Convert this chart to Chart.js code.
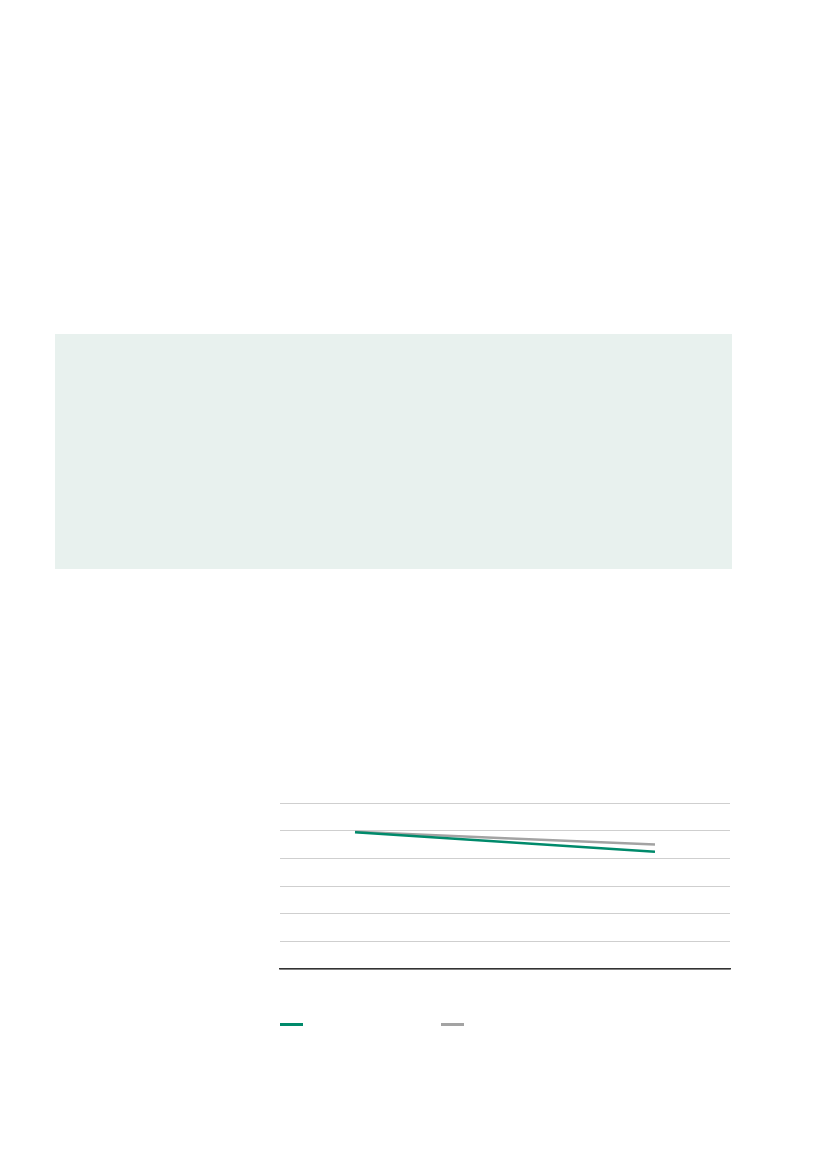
<!DOCTYPE html>
<html>
<head>
<meta charset="utf-8">
<script src="https://cdn.jsdelivr.net/npm/chart.js"></script>
<style>
    body { margin: 0; background: #fff; width: 827px; height: 1169px; position: relative; overflow: hidden; }
    #panel { position: absolute; left: 55px; top: 334px; width: 677px; height: 235px; background: #e8f1ee; }
    #wrap { position: absolute; left: 270px; top: 793px; width: 470px; height: 186px; }
    #legend { position: absolute; left: 280px; top: 1023px; }
    .swatch { position: absolute; top: 0; width: 23px; height: 3px; }
</style>
</head>
<body>
<div id="panel"></div>
<div id="wrap"><canvas id="trendChart" width="470" height="186"></canvas></div>
<div id="legend"></div>

<script>
    const periods = ['1', '2', '3'];
    const seriesA = [4.94, 4.59, 4.24];
    const seriesB = [4.96, 4.73, 4.50];
    const yTicks = [0, 1, 2, 3, 4, 5, 6];

    const colorA = '#008a6b';
    const colorB = '#a3a3a3';

    const trendCtx = document.getElementById('trendChart');
    const chart = new Chart(trendCtx, {
        type: 'line',
        data: {
            labels: periods,
            datasets: [
                {
                    label: 'Series A',
                    data: seriesA,
                    borderColor: colorA,
                    borderWidth: 2.5,
                    pointRadius: 0,
                    tension: 0,
                    order: 1
                },
                {
                    label: 'Series B',
                    data: seriesB,
                    borderColor: colorB,
                    borderWidth: 2.5,
                    pointRadius: 0,
                    tension: 0,
                    order: 2
                }
            ]
        },
        options: {
            responsive: false,
            animation: false,
            layout: { padding: { left: 10, right: 10, top: 10, bottom: 10 } },
            plugins: { legend: { display: false }, tooltip: { enabled: false } },
            scales: {
                x: {
                    offset: true,
                    grid: { display: false, drawTicks: false },
                    border: { color: '#333333', width: 1.5 },
                    ticks: { display: false }
                },
                y: {
                    min: yTicks[0],
                    max: yTicks[yTicks.length - 1],
                    afterBuildTicks: axis => { axis.ticks = yTicks.map(v => ({ value: v })); },
                    grid: { color: '#cfcfcf', lineWidth: 1, drawTicks: false },
                    border: { display: false },
                    ticks: { display: false }
                }
            }
        }
    });

    // legend swatches, no label text in the source
    const legend = document.getElementById('legend');
    chart.data.datasets.forEach((ds, i) => {
        const s = document.createElement('div');
        s.className = 'swatch';
        s.style.left = (i * 161) + 'px';
        s.style.background = ds.borderColor;
        legend.appendChild(s);
    });
</script>
</body>
</html>
